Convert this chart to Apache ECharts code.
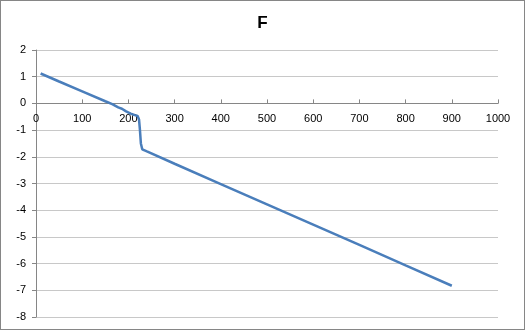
<!DOCTYPE html>
<html>
<head>
<meta charset="utf-8">
<script src="https://cdn.jsdelivr.net/npm/echarts@6/dist/echarts.min.js"></script>
<style>
  html, body { margin: 0; padding: 0; background: #fff; }
  #chart { width: 525px; height: 330px; box-sizing: border-box; border: 1px solid #868686; }
</style>
</head>
<body>
<div id="chart"></div>
<script>
// x / y values
var xs = [10, 50, 100, 150, 165, 178, 186, 195, 205, 214, 220, 223, 225, 227, 230, 240, 300, 400, 500, 600, 700, 800, 900];
var ys = [1.12, 0.82, 0.45, 0.08, -0.03, -0.15, -0.2, -0.3, -0.38, -0.44, -0.47, -0.6, -1.0, -1.5, -1.72, -1.8, -2.26, -3.02, -3.78, -4.54, -5.3, -6.07, -6.83];

var points = xs.map(function (x, i) { return [x, ys[i]]; });

var gridTop = 49, gridBottom = 12, chartH = 330;
var plotH = chartH - gridTop - gridBottom;
// upper band (2 .. 0) so x labels sit just under the zero line
var bandH = plotH * 2 / 10;

var labelStyle = { fontFamily: 'Liberation Sans', fontSize: 11, color: '#000' };

var myChart = echarts.init(document.getElementById('chart'));
var option = {
  backgroundColor: '#fff',
  animation: false,
  title: {
    text: 'F',
    left: 'center',
    top: 9,
    textStyle: { fontFamily: 'Liberation Sans', fontSize: 17, fontWeight: 'bold', color: '#000' }
  },
  grid: [
    { left: 35, right: 26, top: gridTop, bottom: gridBottom, containLabel: false },
    { left: 35, right: 26, top: gridTop, height: bandH, containLabel: false }
  ],
  xAxis: [{
    type: 'value',
    gridIndex: 0,
    min: 0,
    max: 1000,
    interval: 100,
    axisLine: { onZero: true, lineStyle: { color: '#868686', width: 1 } },
    axisTick: { show: true, inside: true, length: 4, lineStyle: { color: '#868686' } },
    axisLabel: { show: false },
    splitLine: { show: false }
  }, {
    type: 'value',
    gridIndex: 1,
    min: 0,
    max: 1000,
    interval: 100,
    axisLine: { show: false, onZero: false },
    axisTick: { show: false },
    axisLabel: Object.assign({ margin: 10, formatter: function (v) { return String(v); } }, labelStyle),
    splitLine: { show: false }
  }],
  yAxis: [{
    type: 'value',
    gridIndex: 0,
    min: -8,
    max: 2,
    interval: 1,
    axisLine: { show: true, onZero: false, lineStyle: { color: '#868686', width: 1 } },
    axisTick: { show: true, length: 4, lineStyle: { color: '#868686' } },
    axisLabel: Object.assign({ margin: 10 }, labelStyle),
    splitLine: { show: true, lineStyle: { color: '#c8c8c8', width: 1 } }
  }, {
    type: 'value',
    gridIndex: 1,
    min: 0,
    max: 2,
    show: false
  }],
  series: [{
    type: 'line',
    xAxisIndex: 0,
    yAxisIndex: 0,
    data: points,
    showSymbol: false,
    lineStyle: { color: '#4a7ebb', width: 2.5 },
    itemStyle: { color: '#4a7ebb' }
  }]
};
if (option && typeof option === 'object') {
  myChart.setOption(option, true);
}
</script>
</body>
</html>
